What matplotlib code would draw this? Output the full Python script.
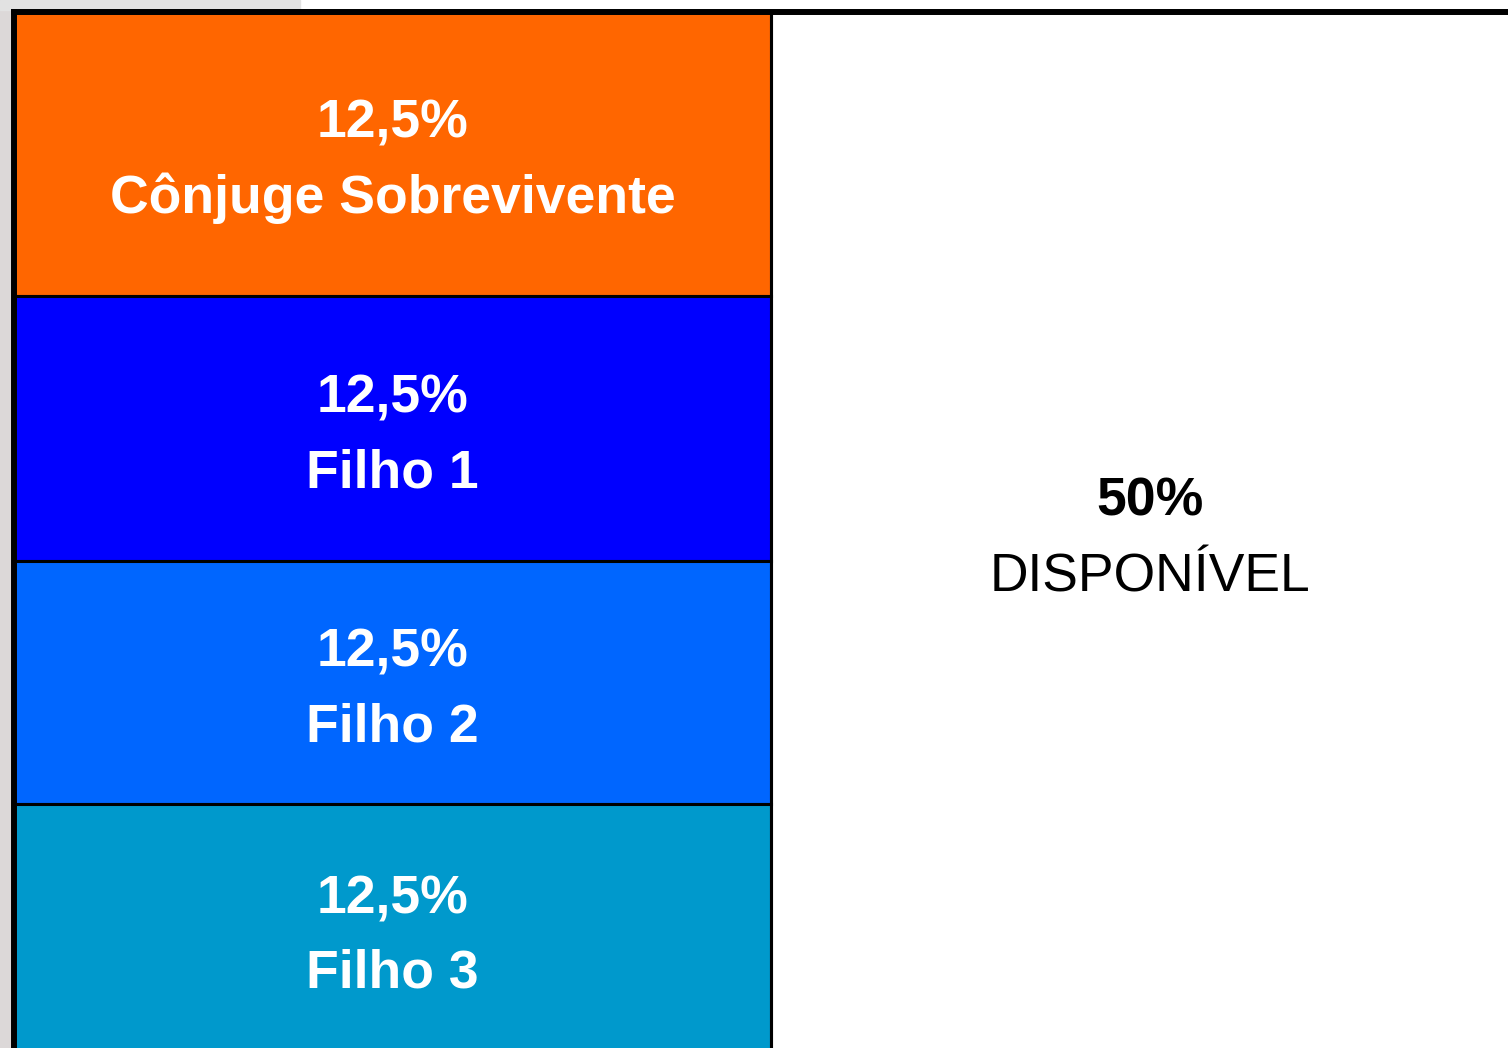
import matplotlib.pyplot as plt
from matplotlib.patches import Rectangle

plt.rcParams['font.family'] = ['Liberation Sans', 'DejaVu Sans']

# Heirs on the left column (top to bottom)
heirs = ['Cônjuge Sobrevivente', 'Filho 1', 'Filho 2', 'Filho 3']
shares = ['12,5%', '12,5%', '12,5%', '12,5%']
# band heights as drawn on the slide (pixels; the last one runs off the bottom)
band_heights = [284, 265, 243, 260]
band_colors = ['#FF6600', '#0000FF', '#0066FF', '#0099CC']

free_share = '50%'
free_label = 'DISPONÍVEL'

W, H = 1508, 1048
fig = plt.figure(figsize=(W / 100, H / 100), dpi=100)
fig.patch.set_facecolor('white')
ax = fig.add_axes([0, 0, 1, 1])
ax.set_xlim(0, W)
ax.set_ylim(H, 0)
ax.axis('off')

# slide background at the left edge
ax.add_patch(Rectangle((0, 0), 12, H, color='#dcd8d8', zorder=0))
ax.add_patch(Rectangle((0, 0), 300, 10, color='#e2e2e2', zorder=0))

col_left, col_right, top = 14, 771, 12
fs = 38.5

# stacked bands of the left column
bottoms = [top + sum(band_heights[:i]) for i in range(len(band_heights))]
ax.bar(col_left, band_heights, bottom=bottoms, width=col_right - col_left,
       align='edge', color=band_colors, edgecolor='black', linewidth=2.2, zorder=2)

cx_left = (col_left + col_right) / 2
for b, h, s, name in zip(bottoms, band_heights, shares, heirs):
    mid = b + h / 2 if b + h <= H else b + 125
    ax.text(cx_left, mid - 16, s, color='white', fontsize=fs,
            fontweight='bold', ha='center', va='baseline', zorder=3)
    ax.text(cx_left, mid + 59, name, color='white', fontsize=fs,
            fontweight='bold', ha='center', va='baseline', zorder=3)

# outer frame lines
ax.plot([col_left, W], [top, top], color='black', lw=4.3, zorder=4, solid_capstyle='projecting')
ax.plot([col_left, col_left], [top, H], color='black', lw=4.3, zorder=4)
ax.plot([col_right, col_right], [top, H], color='black', lw=2.2, zorder=4)

# free portion
cx = (col_right + W) / 2 + 10
ax.text(cx, 515, free_share, color='black', fontsize=fs, fontweight='bold',
        ha='center', va='baseline')
ax.text(cx, 592, free_label, color='black', fontsize=fs, ha='center', va='baseline')

fig.savefig('out.png', dpi=100, facecolor=fig.get_facecolor())
